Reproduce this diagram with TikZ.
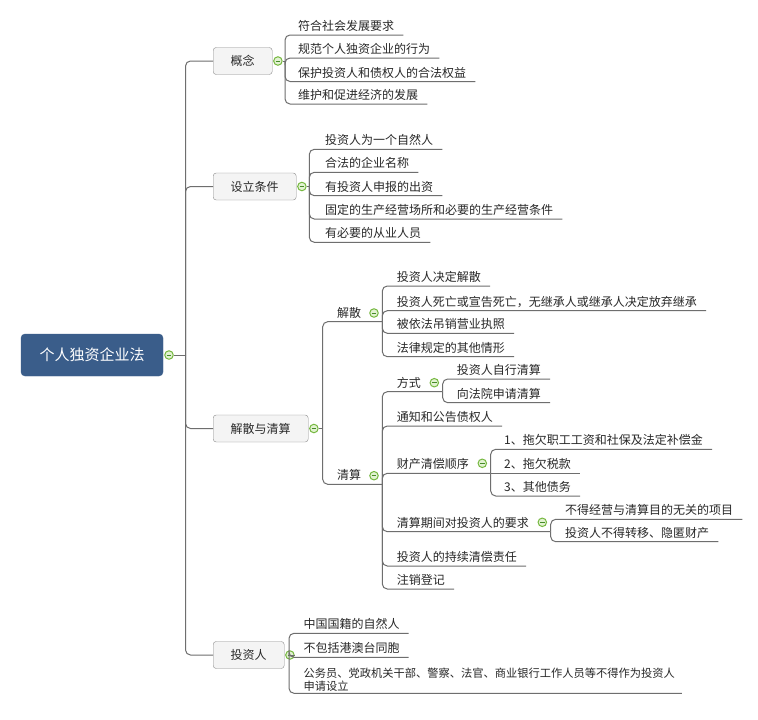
\documentclass[tikz,border=0pt]{standalone}
\usepackage{fontspec}
\setmainfont{Noto Sans CJK SC}
\usetikzlibrary{calc}
\definecolor{rootblue}{RGB}{58,93,138}
\definecolor{linegray}{RGB}{110,110,110}
\definecolor{boxgray}{RGB}{244,244,244}
\definecolor{boxline}{RGB}{140,140,140}
\definecolor{toggreen}{RGB}{118,184,64}
\definecolor{togfill}{RGB}{226,242,210}
\definecolor{togdark}{RGB}{70,140,40}
\definecolor{txt}{RGB}{40,40,40}
\tikzset{
  conn/.style={draw=linegray, line width=1pt, rounded corners=5pt},
  rootbox/.style={draw=rootblue, fill=rootblue, rounded corners=4pt, text=white,
    minimum width=142pt, minimum height=42pt, inner sep=0pt,
    font=\fontsize{15}{17}\selectfont},
  lonebox/.style={draw=boxline, fill=boxgray, rounded corners=3pt, text=txt,
    inner xsep=17.5pt, inner ysep=0pt, minimum height=27pt,
    font=\fontsize{12}{14}\selectfont, anchor=west},
  leaf/.style={anchor=base west, inner sep=0pt, text=txt,
    font=\fontsize{12}{13.3}\selectfont},
  tog/.style={circle, draw=toggreen, fill=togfill, line width=1pt,
    minimum size=8.5pt, inner sep=0pt,
    path picture={\draw[togdark, line width=1pt]
      ([xshift=-2.3pt]path picture bounding box.center) --
      ([xshift=2.3pt]path picture bounding box.center);}}
}
\newcommand{\lfnode}[5]{%
  \node[leaf] (#1) at (#3,#4-4.5) {#5};
  \draw[conn] (#2) |- ($(#1.base east)+(9,4.5)$);}
\begin{document}
\begin{tikzpicture}[x=1pt,y=-1pt]
\useasboundingbox[fill=white] (0,0) rectangle (758,720);

% root
\node[rootbox] (root) at (92,355) {个人独资企业法};
\node[tog] (rt) at (169,355) {};
\coordinate (trunk) at (185.5,355);
\draw[conn] (rt.east) -- (trunk);

% level 1 boxes
\node[lonebox] (n1) at (213,61) {概念};
\node[lonebox] (n2) at (213,186.5) {设立条件};
\node[lonebox] (n3) at (213,428.5) {解散与清算};
\node[lonebox] (n4) at (213,655) {投资人};
\foreach \n in {n1,n2,n3,n4}{\draw[conn] (trunk) |- (\n.west);}

\node[tog] (t1) at ($(n1.east)+(5.5,0)$) {};
\node[tog] (t2) at ($(n2.east)+(5.5,0)$) {};
\node[tog] (t3) at ($(n3.east)+(5.5,0)$) {};
\node[tog] (t4) at ($(n4.east)+(5.5,0)$) {};

% 概念
\coordinate (b1) at (285,61);
\draw[conn] (t1.east) -- (b1);
\lfnode{c11}{b1}{298}{35}{符合社会发展要求}
\lfnode{c12}{b1}{298}{58}{规范个人独资企业的行为}
\lfnode{c13}{b1}{298}{81.5}{保护投资人和债权人的合法权益}
\lfnode{c14}{b1}{298}{104}{维护和促进经济的发展}

% 设立条件
\coordinate (b2) at (309.3,186.5);
\draw[conn] (t2.east) -- (b2);
\lfnode{c21}{b2}{325}{149.3}{投资人为一个自然人}
\lfnode{c22}{b2}{325}{172.3}{合法的企业名称}
\lfnode{c23}{b2}{325}{195.7}{有投资人申报的出资}
\lfnode{c24}{b2}{325}{219}{固定的生产经营场所和必要的生产经营条件}
\lfnode{c25}{b2}{325}{242.3}{有必要的从业人员}

% 解散与清算
\coordinate (b3) at (322.7,428.5);
\draw[conn] (t3.east) -- (b3);

% 解散
\node[leaf] (m31) at (337,321.7-4.5) {解散};
\coordinate (b31) at (382.3,321.7);
\draw[conn] (b3) |- (b31);
\node[tog] (t31) at (374,313) {};
\lfnode{c311}{b31}{396.7}{286}{投资人决定解散}
\lfnode{c312}{b31}{396.7}{310.7}{投资人死亡或宣告死亡，无继承人或继承人决定放弃继承}
\lfnode{c313}{b31}{396.7}{333.3}{被依法吊销营业执照}
\lfnode{c314}{b31}{396.7}{356.7}{法律规定的其他情形}

% 清算
\node[leaf] (m32) at (337,484.3-4.5) {清算};
\coordinate (b32) at (382.3,484.3);
\draw[conn] (b3) |- (b32);
\node[tog] (t32) at (374,475.7) {};

% 方式
\node[leaf] (m321) at (396.7,391.7-4.5) {方式};
\coordinate (b321) at (442.7,391.7);
\draw[conn] (b32) |- (b321);
\node[tog] (t321) at (434.3,382.7) {};
\lfnode{c3211}{b321}{456.7}{379}{投资人自行清算}
\lfnode{c3212}{b321}{456.7}{402.7}{向法院申请清算}

\lfnode{c322}{b32}{396.7}{426}{通知和公告债权人}

% 财产清偿顺序
\node[leaf] (m323) at (396.7,473.3-4.5) {财产清偿顺序};
\coordinate (b323) at (490.7,473.3);
\draw[conn] (b32) |- (b323);
\node[tog] (t323) at (482.3,463.3) {};
\lfnode{c3231}{b323}{504}{449.3}{1、拖欠职工工资和社保及法定补偿金}
\node[leaf] (c3232) at (504,473.3-4.5) {2、拖欠税款};
\draw[conn] (b323) -- ($(c3232.base east)+(9,4.5)$);
\lfnode{c3233}{b323}{504}{496}{3、其他债务}

% 清算期间对投资人的要求
\node[leaf] (m324) at (396.7,531.7-4.5) {清算期间对投资人的要求};
\coordinate (b324) at (550.7,531.7);
\draw[conn] (b32) |- (b324);
\node[tog] (t324) at (542.3,522.3) {};
\lfnode{c3241}{b324}{565}{519.3}{不得经营与清算目的无关的项目}
\lfnode{c3242}{b324}{565}{541.7}{投资人不得转移、隐匿财产}

\lfnode{c325}{b32}{396.7}{566}{投资人的持续清偿责任}
\lfnode{c326}{b32}{396.7}{589}{注销登记}

% 投资人
\coordinate (b4) at (289,655);
\draw[conn] (t4.east) -- (b4);
\lfnode{c41}{b4}{303.3}{633.3}{中国国籍的自然人}
\lfnode{c42}{b4}{303.3}{657.3}{不包括港澳台同胞}
\node[leaf, anchor=south west, align=left, font=\fontsize{11.25}{13.3}\selectfont] (c43) at (303.3,691.5)
  {公务员、党政机关干部、警察、法官、商业银行工作人员等不得作为投资人\\申请设立};
\draw[conn] (b4) |- ($(c43.south east)+(7,1.8)$);
\end{tikzpicture}
\end{document}
